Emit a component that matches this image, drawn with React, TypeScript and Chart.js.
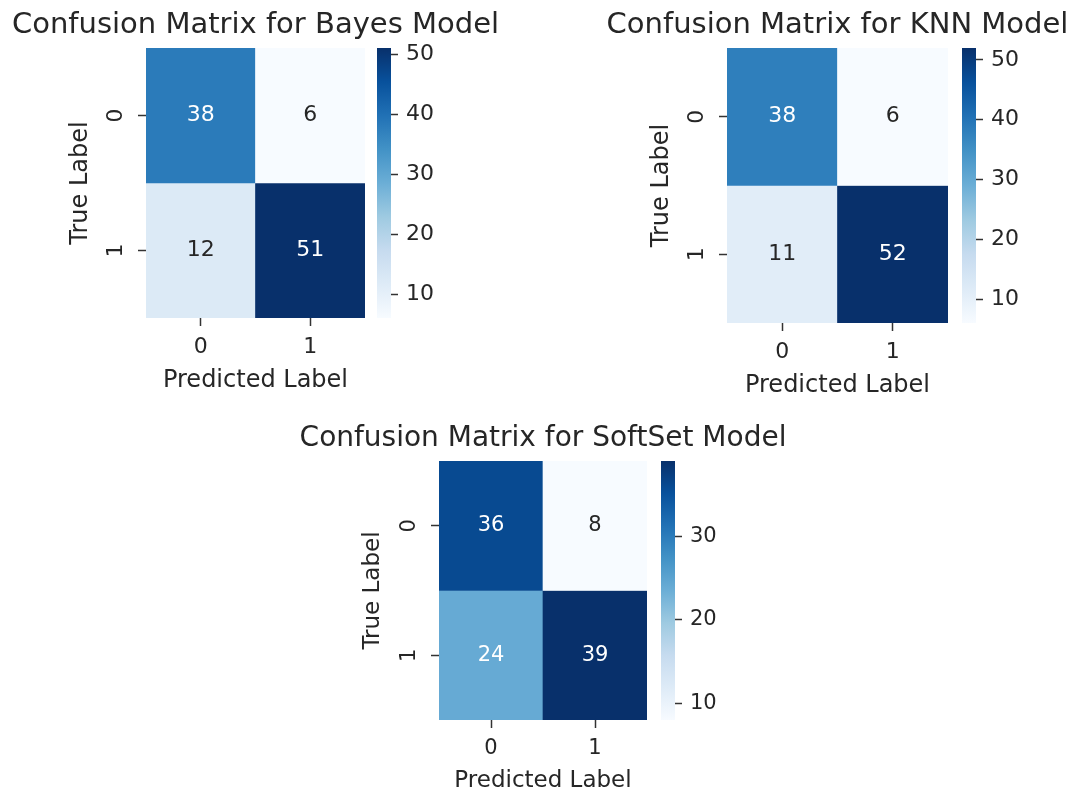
import React, { useEffect, useRef } from 'react';
import { Chart, registerables } from 'chart.js';

Chart.register(...registerables);

// ---------------- data ----------------
const PRED_LABELS = ['0', '1'];
const TRUE_LABELS = ['0', '1'];
const BAYES_VALUES = [
  [38, 6],
  [12, 51],
];
const KNN_VALUES = [
  [38, 6],
  [11, 52],
];
const SOFTSET_VALUES = [
  [36, 8],
  [24, 39],
];
const BAYES_CB_TICKS = [10, 20, 30, 40, 50];
const KNN_CB_TICKS = [10, 20, 30, 40, 50];
const SOFTSET_CB_TICKS = [10, 20, 30];
const TITLES = [
  'Confusion Matrix for Bayes Model',
  'Confusion Matrix for KNN Model',
  'Confusion Matrix for SoftSet Model',
];
const X_TITLE = 'Predicted Label';
const Y_TITLE = 'True Label';

// ---------------- style / layout ----------------
const FONT = '"DejaVu Sans", sans-serif';
const TEXT_COLOR = '#262626';
const TICK_COLOR = '#333333';
const TICK_FONT = 22;
const LABEL_FONT = 24;
const TITLE_FONT = 29;
const TICK_LEN = 8;
const Y_AXIS_W = 80;
const CB_AXIS_W = 60;

// matplotlib "Blues" colormap anchor colours
const BLUES = [
  [247, 251, 255],
  [222, 235, 247],
  [198, 219, 239],
  [158, 202, 225],
  [107, 174, 214],
  [66, 146, 198],
  [33, 113, 181],
  [8, 81, 156],
  [8, 48, 107],
];

const PANELS = [
  { title: TITLES[0], values: BAYES_VALUES, cbTicks: BAYES_CB_TICKS, heat: { l: 146, t: 48, r: 365, b: 318 }, cb: { l: 377, r: 391 }, fs: 1, xh: 77 },
  { title: TITLES[1], values: KNN_VALUES, cbTicks: KNN_CB_TICKS, heat: { l: 727, t: 48, r: 948, b: 323 }, cb: { l: 962, r: 976 }, fs: 1, xh: 77 },
  { title: TITLES[2], values: SOFTSET_VALUES, cbTicks: SOFTSET_CB_TICKS, heat: { l: 439, t: 461, r: 647, b: 720 }, cb: { l: 661, r: 675 }, fs: 0.96, xh: 75 },
];

function blues(t: number): number[] {
  const x = Math.min(1, Math.max(0, t)) * (BLUES.length - 1);
  const i = Math.min(BLUES.length - 2, Math.floor(x));
  const f = x - i;
  return BLUES[i].map((c, k) => Math.round(c + (BLUES[i + 1][k] - c) * f));
}
const rgb = (c: number[]) => `rgb(${c[0]},${c[1]},${c[2]})`;
function luminance(c: number[]) {
  const l = c.map((v) => {
    const s = v / 255;
    return s <= 0.03928 ? s / 12.92 : Math.pow((s + 0.055) / 1.055, 2.4);
  });
  return 0.2126 * l[0] + 0.7152 * l[1] + 0.0722 * l[2];
}

type Panel = (typeof PANELS)[number];

function range(p: Panel) {
  const flat = p.values.flat();
  return { vmin: Math.min(...flat), vmax: Math.max(...flat) };
}

function heatBox(p: Panel) {
  const cx = (p.heat.l + p.heat.r) / 2;
  const left = Math.round(Math.min(p.heat.l - 110, cx - 265));
  const right = Math.round(Math.max(p.heat.r + 10, cx + 265));
  const top = p.heat.t - 50;
  const bottom = p.heat.b + 100;
  return { left, top, width: right - left, height: bottom - top };
}

function heatConfig(p: Panel): any {
  const { vmin, vmax } = range(p);
  const box = heatBox(p);
  const norm = (v: number) => (v - vmin) / (vmax - vmin);
  const tickSize = Math.round(TICK_FONT * p.fs);
  const labelSize = Math.round(LABEL_FONT * p.fs);
  const titleSize = Math.round(TITLE_FONT * p.fs);
  const cellText = {
    id: 'cellText',
    afterDatasetsDraw(chart: any) {
      const ctx = chart.ctx;
      ctx.save();
      ctx.font = `${tickSize}px ${FONT}`;
      ctx.textAlign = 'center';
      ctx.textBaseline = 'middle';
      chart.data.datasets.forEach((_ds: any, r: number) => {
        const meta = chart.getDatasetMeta(r);
        meta.data.forEach((bar: any, c: number) => {
          const v = p.values[r][c];
          const col = blues(norm(v));
          ctx.fillStyle = luminance(col) > 0.408 ? TEXT_COLOR : '#ffffff';
          const pt = bar.getCenterPoint();
          ctx.fillText(String(v), pt.x, pt.y);
        });
      });
      ctx.restore();
    },
  };
  const panelTitle = {
    id: 'panelTitle',
    afterDraw(chart: any) {
      const ctx = chart.ctx;
      const ca = chart.chartArea;
      ctx.save();
      ctx.font = `${titleSize}px ${FONT}`;
      ctx.fillStyle = TEXT_COLOR;
      ctx.textAlign = 'center';
      ctx.textBaseline = 'alphabetic';
      ctx.fillText(p.title, (ca.left + ca.right) / 2, ca.top - 15);
      ctx.restore();
    },
  };
  return {
    type: 'bar',
    data: {
      labels: PRED_LABELS,
      datasets: TRUE_LABELS.map((lab, r) => ({
        label: lab,
        data: PRED_LABELS.map(() => [r, r + 1]),
        backgroundColor: p.values[r].map((v) => rgb(blues(norm(v)))),
        borderWidth: 0,
        barPercentage: 1,
        categoryPercentage: 1,
        grouped: false,
      })),
    },
    options: {
      responsive: false,
      animation: false,
      events: [],
      layout: {
        padding: {
          left: p.heat.l - box.left - Y_AXIS_W,
          right: box.left + box.width - p.heat.r,
          top: p.heat.t - box.top,
          bottom: box.top + box.height - p.heat.b - p.xh,
        },
      },
      scales: {
        x: {
          type: 'category',
          offset: true,
          ticks: { font: { family: FONT, size: tickSize }, color: TEXT_COLOR, padding: 8, minRotation: 0, maxRotation: 0 },
          grid: { display: true, offset: false, drawOnChartArea: false, drawTicks: true, tickLength: TICK_LEN, tickWidth: 1.5, tickColor: TICK_COLOR },
          border: { display: false },
          title: { display: true, text: X_TITLE, font: { family: FONT, size: labelSize }, color: TEXT_COLOR, padding: 0 },
          afterFit: (s: any) => { s.height = p.xh; },
        },
        y: {
          type: 'linear',
          min: 0,
          max: TRUE_LABELS.length,
          reverse: true,
          afterBuildTicks: (s: any) => { s.ticks = TRUE_LABELS.map((_l, i) => ({ value: i + 0.5 })); },
          ticks: {
            callback: (_v: any, i: number) => TRUE_LABELS[i],
            font: { family: FONT, size: tickSize },
            color: TEXT_COLOR,
            minRotation: 90,
            maxRotation: 90,
            crossAlign: 'center',
            padding: 15,
          },
          grid: { display: true, drawOnChartArea: false, drawTicks: true, tickLength: TICK_LEN, tickWidth: 1.5, tickColor: TICK_COLOR },
          border: { display: false },
          title: { display: true, text: Y_TITLE, font: { family: FONT, size: labelSize }, color: TEXT_COLOR, padding: 0 },
          afterFit: (s: any) => { s.width = Y_AXIS_W; },
        },
      },
      plugins: { legend: { display: false }, tooltip: { enabled: false } },
    },
    plugins: [cellText, panelTitle],
  };
}

function cbBox(p: Panel) {
  const left = p.cb.l - 10;
  const top = p.heat.t - 30;
  return { left, top, width: p.cb.r - p.cb.l + 10 + CB_AXIS_W + 10, height: p.heat.b - p.heat.t + 60 };
}

function cbConfig(p: Panel): any {
  const { vmin, vmax } = range(p);
  const box = cbBox(p);
  const tickSize = Math.round(TICK_FONT * p.fs);
  return {
    type: 'bar',
    data: {
      labels: [''],
      datasets: [
        {
          data: [[vmin, vmax]],
          borderWidth: 0,
          barPercentage: 1,
          categoryPercentage: 1,
          backgroundColor: (c: any) => {
            const chart = c.chart;
            const ys = chart.scales && chart.scales.y;
            if (!chart.chartArea || !ys) return rgb(BLUES[4]);
            const g = chart.ctx.createLinearGradient(0, ys.getPixelForValue(vmin), 0, ys.getPixelForValue(vmax));
            BLUES.forEach((col, i) => g.addColorStop(i / (BLUES.length - 1), rgb(col)));
            return g;
          },
        },
      ],
    },
    options: {
      responsive: false,
      animation: false,
      events: [],
      layout: {
        padding: {
          left: p.cb.l - box.left,
          right: box.left + box.width - p.cb.r - CB_AXIS_W,
          top: p.heat.t - box.top,
          bottom: box.top + box.height - p.heat.b,
        },
      },
      scales: {
        x: { display: false },
        y: {
          type: 'linear',
          position: 'right',
          min: vmin,
          max: vmax,
          afterBuildTicks: (s: any) => { s.ticks = p.cbTicks.map((v) => ({ value: v })); },
          ticks: { font: { family: FONT, size: tickSize }, color: TEXT_COLOR, padding: 8 },
          grid: { display: true, drawOnChartArea: false, drawTicks: true, tickLength: 7, tickWidth: 1.5, tickColor: TICK_COLOR },
          border: { display: false },
          afterFit: (s: any) => { s.width = CB_AXIS_W; },
        },
      },
      plugins: { legend: { display: false }, tooltip: { enabled: false } },
    },
  };
}

function ChartCanvas({ box, build }: { box: { left: number; top: number; width: number; height: number }; build: () => any }) {
  const ref = useRef<HTMLCanvasElement>(null);
  useEffect(() => {
    const chart = new Chart(ref.current as HTMLCanvasElement, build());
    return () => chart.destroy();
  }, []);
  return (
    <canvas
      ref={ref}
      width={box.width}
      height={box.height}
      style={{ position: 'absolute', left: box.left, top: box.top, width: box.width, height: box.height }}
    />
  );
}

export default function App() {
  return (
    <div style={{ position: 'absolute', left: 0, top: 0, width: 1080, height: 794, overflow: 'hidden', background: '#ffffff' }}>
      {PANELS.map((p, i) => (
        <React.Fragment key={i}>
          <ChartCanvas box={heatBox(p)} build={() => heatConfig(p)} />
          <ChartCanvas box={cbBox(p)} build={() => cbConfig(p)} />
        </React.Fragment>
      ))}
    </div>
  );
}
